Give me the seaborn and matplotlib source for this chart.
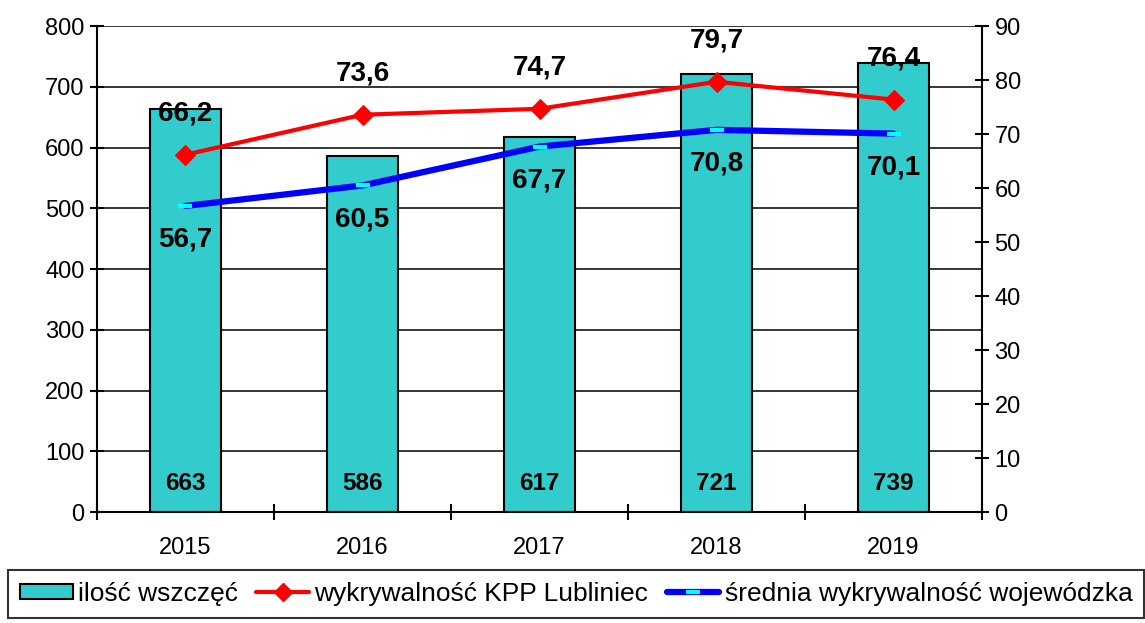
import seaborn as sns
import pandas as pd
import matplotlib.pyplot as plt
from matplotlib.lines import Line2D
from matplotlib.patches import Patch

years = ['2015', '2016', '2017', '2018', '2019']
wszczecia = [663, 586, 617, 721, 739]
wykr_kpp = [66.2, 73.6, 74.7, 79.7, 76.4]
wykr_woj = [56.7, 60.5, 67.7, 70.8, 70.1]

df = pd.DataFrame({'rok': years, 'ilosc': wszczecia, 'kpp': wykr_kpp, 'woj': wykr_woj})

sns.set_theme(style='white')
plt.rcParams['font.family'] = ['Liberation Sans', 'DejaVu Sans']
plt.rcParams['text.color'] = 'black'
plt.rcParams['xtick.color'] = 'black'
plt.rcParams['ytick.color'] = 'black'
plt.rcParams['axes.labelcolor'] = 'black'

fig = plt.figure(figsize=(11.45, 6.23), dpi=100)
ax = fig.add_axes([0.0847, 0.178, 0.773, 0.780])
ax2 = ax.twinx()

sns.barplot(data=df, x='rok', y='ilosc', ax=ax, color='#33CCCC', saturation=1,
            width=0.4, edgecolor='black', linewidth=1.5, zorder=2)
ax.set_ylim(0, 800)
ax.set_yticks(range(0, 801, 100))
ax.yaxis.grid(True, color='black', linewidth=1.1, zorder=0)
ax.set_axisbelow(True)
ax.set_xlim(-0.5, 4.5)
ax.set_xlabel('')
ax.set_ylabel('')

# liczby wszczęć u dołu słupków
for i, v in enumerate(wszczecia):
    ax.text(i, 36, str(v), ha='center', va='baseline', fontsize=17.5,
            fontweight='bold', zorder=5)

sns.lineplot(x=range(len(years)), y=wykr_kpp, ax=ax2, color='red', linewidth=3,
             marker='D', markersize=10.5, markeredgecolor='red', zorder=4)
sns.lineplot(x=range(len(years)), y=wykr_woj, ax=ax2, color='#0000FF', linewidth=4.5,
             zorder=3)
ax2.plot(range(len(years)), wykr_woj, linestyle='none', marker='_', markersize=10,
         markeredgewidth=3, color='#00FFFF', zorder=4)
ax2.set_ylim(0, 90)
ax2.set_yticks(range(0, 91, 10))
ax2.set_xlim(-0.5, 4.5)

for i, v in enumerate(wykr_kpp):
    ax2.text(i, v + 6.3, f'{v:.1f}'.replace('.', ','), ha='center', va='baseline',
             fontsize=20, fontweight='bold', zorder=6)
for i, v in enumerate(wykr_woj):
    ax2.text(i, v - 7.6, f'{v:.1f}'.replace('.', ','), ha='center', va='baseline',
             fontsize=20, fontweight='bold', zorder=6)

for a in (ax, ax2):
    for s in a.spines.values():
        s.set_visible(False)
ax.spines['left'].set_visible(True)
ax.spines['bottom'].set_visible(True)
ax2.spines['right'].set_visible(True)
for s in (ax.spines['left'], ax.spines['bottom'], ax2.spines['right']):
    s.set_color('black')
    s.set_linewidth(1.5)

ax.tick_params(axis='y', direction='inout', length=10, width=1.5, color='black',
               labelsize=17, left=True, pad=4)
ax2.tick_params(axis='y', direction='inout', length=10, width=1.5, color='black',
                labelsize=17, right=True, pad=4)
# podziałka osi X między kategoriami
ax.set_xticks([0, 1, 2, 3, 4])
ax.set_xticklabels(years)
ax.tick_params(axis='x', bottom=False, labelsize=17, pad=12)
ax.set_xticks([-0.5, 0.5, 1.5, 2.5, 3.5, 4.5], minor=True)
ax.tick_params(axis='x', which='minor', bottom=True, direction='inout', length=12,
               width=1.5, color='black')

handles = [
    Patch(facecolor='#33CCCC', edgecolor='black', linewidth=1.5),
    Line2D([], [], color='red', linewidth=3, marker='D', markersize=9),
    Line2D([], [], color='#0000FF', linewidth=4.5, marker='_', markersize=10,
           markeredgewidth=3, markeredgecolor='#00FFFF'),
]
labels = ['ilość wszczęć', 'wykrywalność KPP Lubliniec', 'średnia wykrywalność wojewódzka']
leg = fig.legend(handles, labels, loc='upper left', bbox_to_anchor=(8 / 1145, 1 - 570 / 623),
                 ncol=3, fontsize=19, frameon=True, fancybox=False, edgecolor='black',
                 handlelength=2.0, handleheight=0.55, handletextpad=0.2,
                 columnspacing=0.7, borderpad=0.45, borderaxespad=0)
leg.get_frame().set_linewidth(1.5)

fig.savefig('out.png', dpi=100)
